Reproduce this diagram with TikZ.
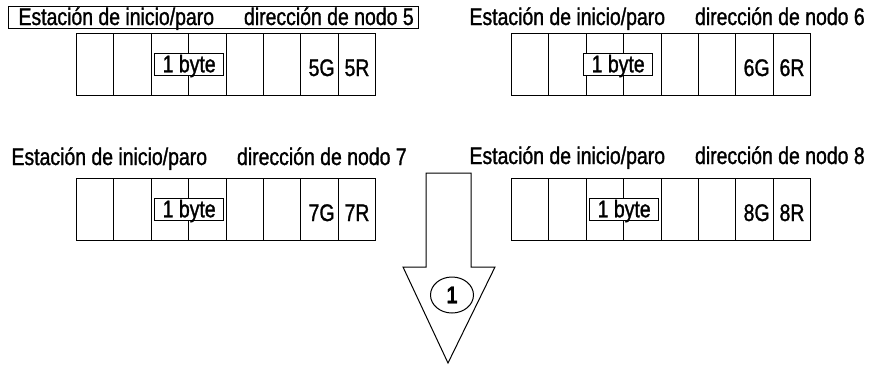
\documentclass[tikz,border=0pt]{standalone}
\usepackage{fontspec}
\setmainfont[FakeStretch=0.81, FakeBold=1.2]{Liberation Sans}
\usetikzlibrary{shapes.geometric}

\begin{document}
\begin{tikzpicture}[
    x=1pt, y=-1pt, line width=1pt,
    every node/.style={font=\fontsize{24}{29}\selectfont, inner sep=0pt},
    titlelabel/.style={anchor=base west},
    cell/.style={draw, anchor=north west, minimum width=37.4pt, minimum height=62pt},
    bytebox/.style={draw, fill=white, minimum width=69pt, minimum height=22pt, text height=18.5pt, text depth=3pt},
    bitlabel/.style={anchor=base},
    stepmark/.style={ellipse, draw, minimum width=43pt, minimum height=36pt, font=\bfseries\fontsize{24}{29}\selectfont},
]
\useasboundingbox (0,0) rectangle (870,365);
% node / register x / register y / title x / title y / byte shift
\foreach \n/\x/\y/\tx/\ty/\bs in {5/76/33/18/25/0, 6/511/33/469/25/-6, 7/76/178/11/165/0, 8/511/178/469/164/0} {
    \node[titlelabel] (title\n) at (\tx,\ty) {Estación de inicio/paro\hspace{30pt}dirección de nodo \n};
    \foreach \c in {1,...,8}
        \node[cell] (cell\n-\c) at ({\x+(\c-1)*37.4},\y) {};
    \node[bytebox, xshift=\bs pt] (byte\n) at (cell\n-3.east) {1 byte};
    \node[bitlabel] (g\n) at ([xshift=2pt]cell\n-7.center |- 0,\y+43) {\n G};
    \node[bitlabel] (r\n) at (cell\n-8.center |- 0,\y+43) {\n R};
}
\draw (8,6) rectangle (418,28);
% big arrow down
\draw (426,173) -- (471,173) -- (471,267) -- (495,267) -- (448,363) -- (403,267) -- (426,267) -- cycle;
\node[stepmark] (step1) at (452,295) {1};
\end{tikzpicture}
\end{document}
